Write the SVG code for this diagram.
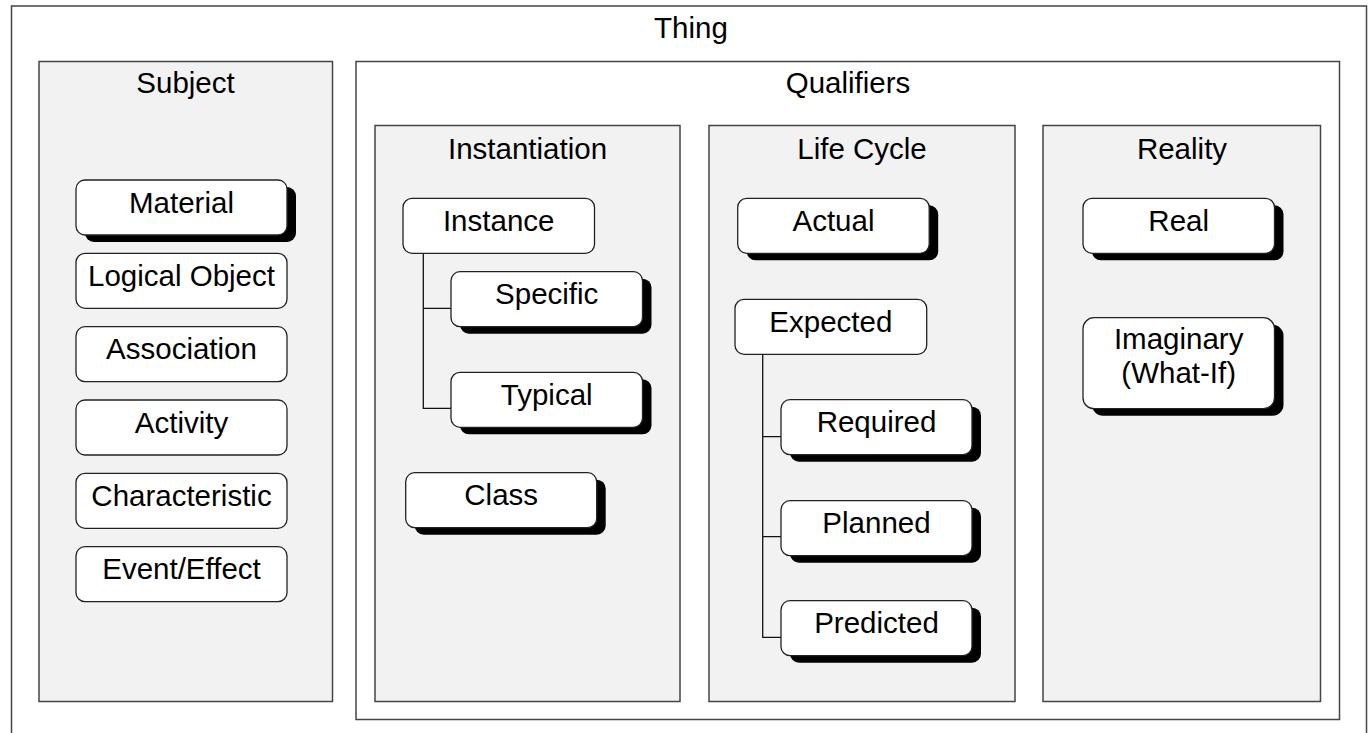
<svg xmlns="http://www.w3.org/2000/svg" width="1368" height="733" viewBox="0 0 1368 733">
  <style>
    .frame { fill: #ffffff; stroke: #444444; stroke-width: 1.5; }
    .panel { fill: #f2f2f2; stroke: #444444; stroke-width: 1.5; }
    .box { fill: #ffffff; stroke: #222222; stroke-width: 1.3; }
    .shadow { fill: #000000; }
    .conn { fill: none; stroke: #111111; stroke-width: 1.3; }
    text { font-family: "Liberation Sans", Arial, sans-serif; font-size: 29.5px; fill: #000000; text-anchor: middle; }
  </style>

  <rect width="1368" height="733" fill="#ffffff"/>

  <!-- containers -->
  <g id="thing">
    <rect class="frame" x="11.5" y="6" width="1355" height="740"/>
    <text x="691" y="38">Thing</text>
  </g>
  <g id="subject">
    <rect class="panel" x="39" y="61.5" width="293.5" height="640"/>
    <text x="185.5" y="93">Subject</text>
  </g>
  <g id="qualifiers">
    <rect class="frame" x="356" y="61.5" width="983.5" height="658"/>
    <text x="848" y="93">Qualifiers</text>
  </g>
  <g id="instantiation">
    <rect class="panel" x="375" y="125.5" width="305" height="576"/>
    <text x="527.5" y="159">Instantiation</text>
  </g>
  <g id="life-cycle">
    <rect class="panel" x="709" y="125.5" width="306" height="576"/>
    <text x="862" y="159">Life Cycle</text>
  </g>
  <g id="reality">
    <rect class="panel" x="1043" y="125.5" width="277.5" height="576"/>
    <text x="1182" y="159">Reality</text>
  </g>

  <!-- tree connectors -->
  <g id="connectors">
    <path class="conn" d="M423.3 253.3 V408.3 H451 M423.3 308.3 H451"/>
    <path class="conn" d="M762.7 354.3 V637.3 H781 M762.7 436.7 H781 M762.7 536.7 H781"/>
  </g>

  <!-- Subject nodes -->
  <g id="material">
    <rect class="shadow" x="85" y="187" width="211" height="55" rx="9"/>
    <rect class="box" x="76" y="180" width="211" height="55" rx="9"/>
    <text x="181.5" y="213">Material</text>
  </g>
  <g id="logical-object">
    <rect class="box" x="76" y="253.3" width="211" height="55" rx="9"/>
    <text x="181.5" y="286">Logical Object</text>
  </g>
  <g id="association">
    <rect class="box" x="76" y="326.7" width="211" height="55" rx="9"/>
    <text x="181.5" y="359.4">Association</text>
  </g>
  <g id="activity">
    <rect class="box" x="76" y="400" width="211" height="55" rx="9"/>
    <text x="181.5" y="432.7">Activity</text>
  </g>
  <g id="characteristic">
    <rect class="box" x="76" y="473.3" width="211" height="55" rx="9"/>
    <text x="181.5" y="506">Characteristic</text>
  </g>
  <g id="event-effect">
    <rect class="box" x="76" y="546.7" width="211" height="55" rx="9"/>
    <text x="181.5" y="579.4">Event/Effect</text>
  </g>

  <!-- Instantiation nodes -->
  <g id="instance">
    <rect class="box" x="403" y="198.3" width="191.5" height="55" rx="9"/>
    <text x="498.7" y="231">Instance</text>
  </g>
  <g id="specific">
    <rect class="shadow" x="460" y="278.7" width="191.5" height="55" rx="9"/>
    <rect class="box" x="451" y="271.7" width="191.5" height="55" rx="9"/>
    <text x="546.7" y="304.4">Specific</text>
  </g>
  <g id="typical">
    <rect class="shadow" x="460" y="379.3" width="191.5" height="55" rx="9"/>
    <rect class="box" x="451" y="372.3" width="191.5" height="55" rx="9"/>
    <text x="546.7" y="405">Typical</text>
  </g>
  <g id="class">
    <rect class="shadow" x="414.7" y="479.7" width="191" height="55" rx="9"/>
    <rect class="box" x="405.7" y="472.7" width="191" height="55" rx="9"/>
    <text x="501.2" y="505.4">Class</text>
  </g>

  <!-- Life Cycle nodes -->
  <g id="actual">
    <rect class="shadow" x="746.7" y="205.3" width="191.5" height="55" rx="9"/>
    <rect class="box" x="737.7" y="198.3" width="191.5" height="55" rx="9"/>
    <text x="833.5" y="231">Actual</text>
  </g>
  <g id="expected">
    <rect class="box" x="735" y="299.3" width="191.7" height="55" rx="9"/>
    <text x="830.8" y="332">Expected</text>
  </g>
  <g id="required">
    <rect class="shadow" x="790" y="406.7" width="191" height="55" rx="9"/>
    <rect class="box" x="781" y="399.7" width="191" height="55" rx="9"/>
    <text x="876.5" y="432.4">Required</text>
  </g>
  <g id="planned">
    <rect class="shadow" x="790" y="507.7" width="191" height="55" rx="9"/>
    <rect class="box" x="781" y="500.7" width="191" height="55" rx="9"/>
    <text x="876.5" y="533.4">Planned</text>
  </g>
  <g id="predicted">
    <rect class="shadow" x="790" y="607.7" width="191" height="55" rx="9"/>
    <rect class="box" x="781" y="600.7" width="191" height="55" rx="9"/>
    <text x="876.5" y="633.4">Predicted</text>
  </g>

  <!-- Reality nodes -->
  <g id="real">
    <rect class="shadow" x="1092" y="205.3" width="191.5" height="55" rx="9"/>
    <rect class="box" x="1083" y="198.3" width="191.5" height="55" rx="9"/>
    <text x="1178.7" y="231">Real</text>
  </g>
  <g id="imaginary">
    <rect class="shadow" x="1092" y="324.7" width="191.5" height="91" rx="11"/>
    <rect class="box" x="1083" y="317.7" width="191.5" height="91" rx="11"/>
    <text x="1178.7" y="349.3">Imaginary</text>
    <text x="1178.7" y="383.3">(What-If)</text>
  </g>
</svg>
